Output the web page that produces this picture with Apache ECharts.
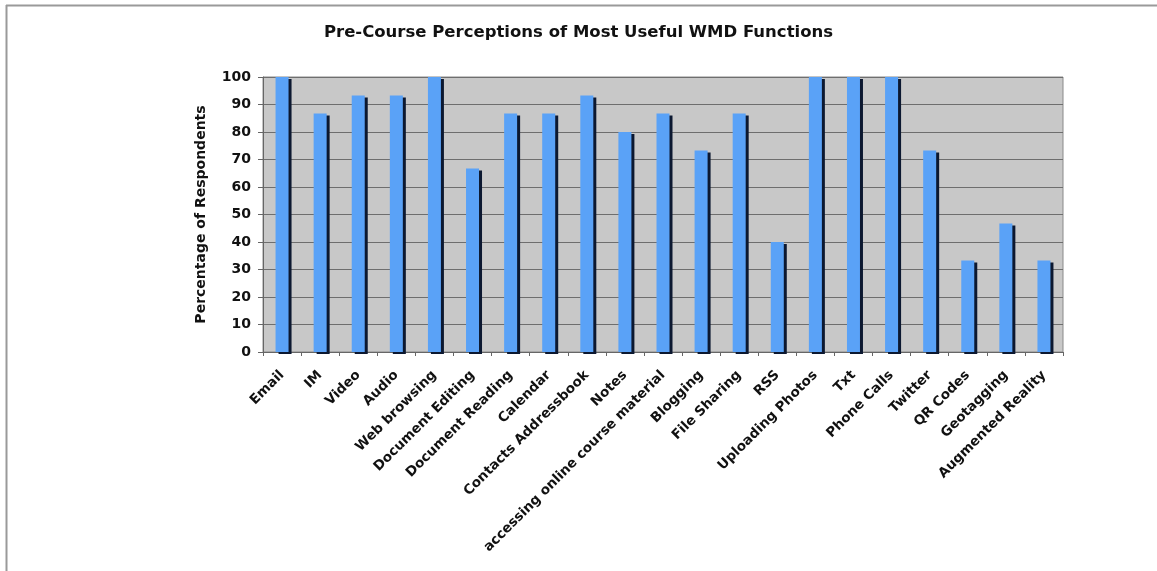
<!DOCTYPE html>
<html><head><meta charset="utf-8">
<script src="https://cdn.jsdelivr.net/npm/echarts@6/dist/echarts.min.js"></script>
<style>html,body{margin:0;padding:0;background:#fff}#c{width:1157px;height:571px}</style>
</head><body><div id="c"></div>
<script>
const title = "Pre-Course Perceptions of Most Useful WMD Functions";
const yAxisName = "Percentage of Respondents";
const categories = ["Email","IM","Video","Audio","Web browsing","Document Editing","Document Reading","Calendar","Contacts Addressbook","Notes","accessing online course material","Blogging","File Sharing","RSS","Uploading Photos","Txt","Phone Calls","Twitter","QR Codes","Geotagging","Augmented Reality"];
const values = [100,86.7,93.3,93.3,100,66.7,86.7,86.7,93.3,80,86.7,73.3,86.7,40,100,100,100,73.3,33.3,46.7,33.3];

const chart = echarts.init(document.getElementById('c'), null, {renderer:'canvas'});
chart.setOption({
  animation:false,
  backgroundColor:'#fff',
  graphic:[
    {type:'line', shape:{x1:6,y1:5.5,x2:1157,y2:5.5}, style:{stroke:'#9a9a9a', lineWidth:2}, z:-1},
    {type:'line', shape:{x1:6.5,y1:5,x2:6.5,y2:571}, style:{stroke:'#9a9a9a', lineWidth:2}, z:-1}
  ],
  title:{text:title, left:'center', top:19, textStyle:{fontFamily:'DejaVu Sans', fontSize:16.5, fontWeight:'bold', color:'#111'}},
  grid:{left:263, top:77, width:800, height:275, show:true, backgroundColor:'#c8c8c8', borderColor:'#8a8a8a', borderWidth:1},
  xAxis:{type:'category', data:categories,
    axisLine:{lineStyle:{color:'#666', width:1}},
    axisTick:{show:true, length:4, lineStyle:{color:'#666'}},
    axisLabel:{rotate:45, interval:0, margin:21, fontFamily:'DejaVu Sans', fontSize:13.5, fontWeight:'bold', color:'#111'}
  },
  yAxis:{type:'value', min:0, max:100, interval:10,
    name:yAxisName, nameLocation:'middle', nameGap:55, nameRotate:90,
    nameTextStyle:{fontFamily:'DejaVu Sans', fontSize:14, fontWeight:'bold', color:'#111'},
    axisLine:{show:true, lineStyle:{color:'#666'}},
    axisTick:{show:true, length:5, lineStyle:{color:'#666'}},
    axisLabel:{fontFamily:'DejaVu Sans', fontSize:14, fontWeight:'bold', color:'#111', margin:12},
    splitLine:{lineStyle:{color:'#6e6e6e', width:1}}
  },
  series:[{type:'bar', data:values, barWidth:13,
    itemStyle:{color:'#5aa2f7', shadowColor:'#0c1830', shadowOffsetX:3, shadowOffsetY:2, shadowBlur:0}
  }]
});
</script></body></html>
